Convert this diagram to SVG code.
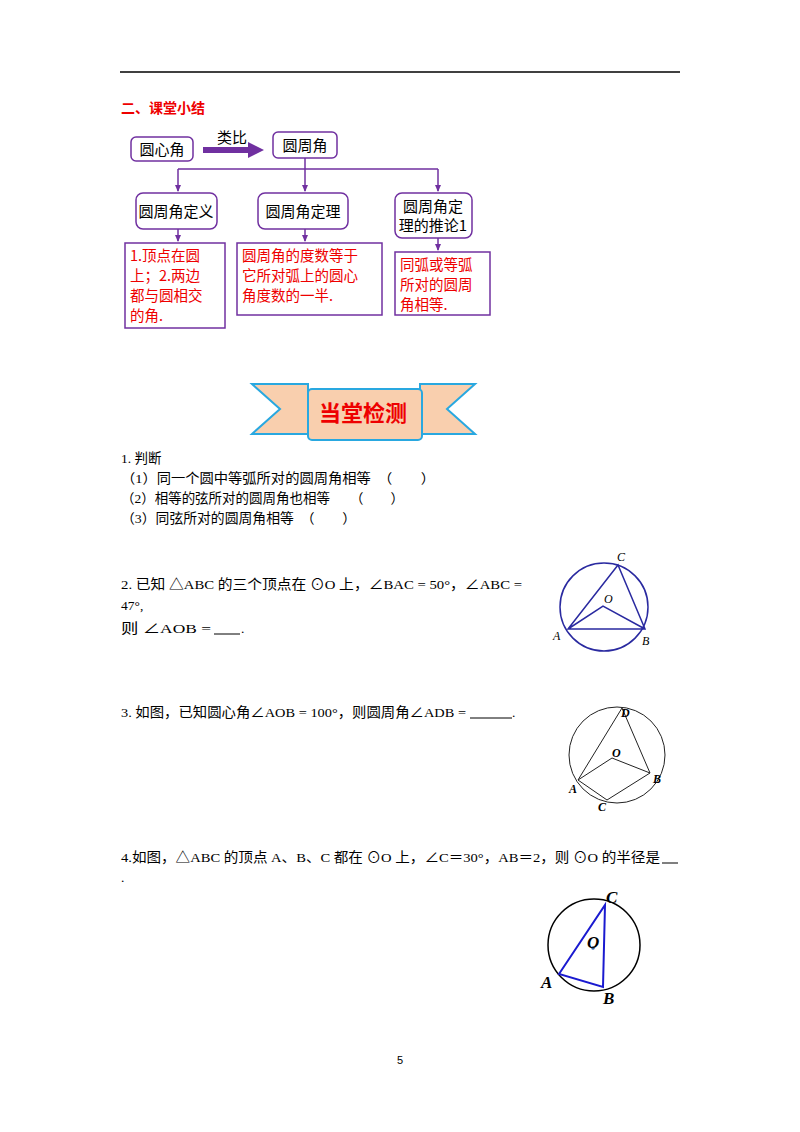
<svg xmlns="http://www.w3.org/2000/svg" width="800" height="1132" viewBox="0 0 800 1132">
<style>
.t{font-family:"Liberation Serif","Noto Sans CJK SC",serif;font-size:13.5px;fill:#000}
.c{font-family:"Noto Sans CJK SC",sans-serif;font-size:15px;fill:#000}
.r{font-family:"Noto Sans CJK SC",sans-serif;font-size:14.5px;fill:#e00}
.box{fill:#fff;stroke:#7030a0;stroke-width:1.5}
.lb{font-family:"Liberation Serif",serif;font-style:italic;font-size:12px}
.ln{stroke:#7030a0;stroke-width:1.5;fill:none}
</style>
<defs><marker id="a" markerWidth="8" markerHeight="8" refX="6" refY="4" orient="auto" markerUnits="userSpaceOnUse"><path d="M0,1 L7,4 L0,7 z" fill="#7030a0"/></marker></defs>
<rect width="800" height="1132" fill="#fff"/>
<line x1="120" y1="72" x2="680" y2="72" stroke="#000" stroke-width="1.5"/>
<text x="121" y="113" font-family="Noto Sans CJK SC,sans-serif" font-weight="bold" font-size="14" fill="#e00">二、课堂小结</text>
<g id="connectors">
<path d="M203,150 H250" stroke="#7030a0" stroke-width="6"/>
<path d="M248,142 L264,150 L248,158 z" fill="#7030a0"/>
<path class="ln" d="M305,158 V169 M178,169 H438"/>
<path class="ln" d="M178,169 V191" marker-end="url(#a)"/>
<path class="ln" d="M305,169 V191" marker-end="url(#a)"/>
<path class="ln" d="M438,169 V191" marker-end="url(#a)"/>
<path class="ln" d="M178,229 V241" marker-end="url(#a)"/>
<path class="ln" d="M305,229 V241" marker-end="url(#a)"/>
<path class="ln" d="M438,238 V250" marker-end="url(#a)"/>
</g>
<text x="232" y="143" text-anchor="middle" class="c" font-size="14">类比</text>
<g id="n1"><rect class="box" x="131" y="137" width="62" height="24" rx="5"/><text class="c" x="162" y="155" text-anchor="middle">圆心角</text></g>
<g id="n2"><rect class="box" x="273" y="132" width="64" height="26" rx="5"/><text class="c" x="305" y="151" text-anchor="middle">圆周角</text></g>
<g id="n3"><rect class="box" x="136" y="193" width="81" height="36" rx="7"/><text class="c" x="176" y="217" text-anchor="middle">圆周角定义</text></g>
<g id="n4"><rect class="box" x="258" y="193" width="90" height="36" rx="7"/><text class="c" x="303" y="217" text-anchor="middle">圆周角定理</text></g>
<g id="n5"><rect class="box" x="395" y="193" width="77" height="45" rx="7"/><text class="c" x="433" y="212" text-anchor="middle">圆周角定</text><text class="c" x="433" y="231" text-anchor="middle">理的推论1</text></g>
<g id="n6"><rect class="box" x="125" y="243" width="100" height="85"/>
<text class="r" x="130" y="261">1.顶点在圆</text><text class="r" x="130" y="281">上；2.两边</text><text class="r" x="130" y="301">都与圆相交</text><text class="r" x="130" y="321">的角.</text></g>
<g id="n7"><rect class="box" x="237" y="243" width="145" height="72"/>
<text class="r" x="242" y="261">圆周角的度数等于</text><text class="r" x="242" y="281">它所对弧上的圆心</text><text class="r" x="242" y="301">角度数的一半.</text></g>
<g id="n8"><rect class="box" x="395" y="252" width="95" height="63"/>
<text class="r" x="400" y="270">同弧或等弧</text><text class="r" x="400" y="290">所对的圆周</text><text class="r" x="400" y="310">角相等.</text></g>
<g id="banner">
<path d="M252,384 H308 V434 H252 L280,409 z" fill="#f9cfae" stroke="#29a8e0" stroke-width="2"/>
<path d="M475,384 H420 V434 H475 L447,409 z" fill="#f9cfae" stroke="#29a8e0" stroke-width="2"/>
<rect x="308" y="389" width="114" height="51" rx="4" fill="#f9cfae" stroke="#29a8e0" stroke-width="2"/>
<text x="363" y="421" text-anchor="middle" font-family="Noto Sans CJK SC,sans-serif" font-weight="bold" font-size="22" fill="#e00">当堂检测</text>
</g>
<text class="t" x="121" y="463">1. 判断</text>
<text class="t" x="121" y="483" textLength="314" lengthAdjust="spacingAndGlyphs">（1）同一个圆中等弧所对的圆周角相等　（　　）</text>
<text class="t" x="121" y="503" textLength="283" lengthAdjust="spacingAndGlyphs">（2）相等的弦所对的圆周角也相等　　（　　）</text>
<text class="t" x="121" y="523" textLength="235" lengthAdjust="spacingAndGlyphs">（3）同弦所对的圆周角相等　（　　）</text>
<text class="t" x="121" y="589" textLength="401" lengthAdjust="spacingAndGlyphs">2. 已知 △ABC 的三个顶点在 ⊙O 上，∠BAC = 50°，∠ABC =</text>
<text class="t" x="121" y="610">47°,</text>
<text class="t" x="121" y="633" textLength="90" lengthAdjust="spacingAndGlyphs">则 ∠AOB =</text>
<line x1="214" y1="634" x2="240" y2="634" stroke="#000"/><text class="t" x="241" y="633">.</text>
<text class="t" x="121" y="717" textLength="345" lengthAdjust="spacingAndGlyphs">3. 如图，已知圆心角∠AOB = 100°，则圆周角∠ADB =</text>
<line x1="470" y1="718" x2="512" y2="718" stroke="#000"/><text class="t" x="512" y="717">.</text>
<text class="t" x="121" y="862" textLength="539" lengthAdjust="spacingAndGlyphs">4.如图，△ABC 的顶点 A、B、C 都在 ⊙O 上，∠C＝30°，AB＝2，则 ⊙O 的半径是</text>
<line x1="662" y1="863" x2="678" y2="863" stroke="#000"/>
<text class="t" x="121" y="882">.</text>
<g id="fig1" fill="none" stroke="#2a2aa0" stroke-width="1.5">
<circle cx="604" cy="607" r="44"/>
<path d="M568,629 L618,565 L645,629 Z M568,629 L603,606 L645,629"/>
</g>
<g class="lb" fill="#000"><text x="617" y="561">C</text><text x="604" y="603">O</text><text x="553" y="640">A</text><text x="642" y="645">B</text></g>
<g id="fig2" fill="none" stroke="#222" stroke-width="1">
<circle cx="617" cy="755" r="48"/>
<path d="M578,780 L622,708 L650,773 L607,800 Z M578,780 L612,758 L650,773"/>
</g>
<g class="lb" fill="#000" font-weight="bold" font-size="11"><text x="621" y="717">D</text><text x="612" y="757">O</text><text x="569" y="793">A</text><text x="653" y="783">B</text><text x="598" y="811">C</text></g>
<g id="fig3">
<circle cx="594" cy="945" r="46" fill="none" stroke="#000" stroke-width="1.5"/>
<path d="M559,974 L605,905 L603,987 Z" fill="none" stroke="#1a1ad0" stroke-width="2"/>
<circle cx="593" cy="948" r="1.8" fill="#3060a0"/>
</g>
<g font-family="Liberation Serif,serif" font-style="italic" font-weight="bold" font-size="17" fill="#000"><text x="606" y="903">C</text><text x="587" y="948">O</text><text x="541" y="988">A</text><text x="603" y="1004">B</text></g>
<text x="400" y="1064" text-anchor="middle" font-family="Liberation Sans,sans-serif" font-size="11">5</text>
</svg>
